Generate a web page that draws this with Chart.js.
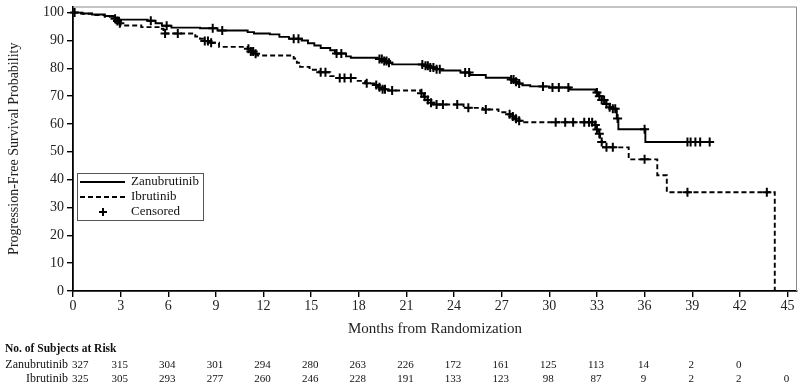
<!DOCTYPE html>
<html>
<head>
<meta charset="utf-8">
<script src="https://cdn.jsdelivr.net/npm/chart.js@4/dist/chart.umd.min.js"></script>
<style>
  html, body { margin: 0; padding: 0; background: #fff; }
  #wrap { width: 804px; height: 391px; position: relative; }
</style>
</head>
<body>
<div id="wrap"><canvas id="km"></canvas></div>
<script>
// tick labels
const monthTicks = [0, 3, 6, 9, 12, 15, 18, 21, 24, 27, 30, 33, 36, 39, 42, 45];
const pctTicks = [0, 10, 20, 30, 40, 50, 60, 70, 80, 90, 100];

// Zanubrutinib: event times (months) and survival (%) after each event
const zanuTimes = [0, 0.5, 1.2, 2.0, 2.6, 2.9, 4.7, 5.2, 5.6, 6.2, 8.0, 9.1, 11.0, 11.4, 12.4, 13.0, 13.6, 14.4, 14.8, 15.2, 15.6, 16.2, 16.5, 17.2, 17.5, 19.2, 19.5, 19.8, 20.1, 22.1, 22.5, 22.8, 23.2, 24.4, 25.0, 26.0, 27.6, 27.8, 28.0, 28.3, 28.8, 30.0, 31.3, 32.9, 33.1, 33.3, 33.5, 33.8, 34.0, 34.25, 34.35, 36.05];
const zanuSurv = [100, 99.7, 99.3, 98.8, 98.2, 97.5, 97.1, 96.2, 95.3, 94.6, 94.4, 93.6, 93.0, 92.5, 92.2, 91.3, 90.6, 90.0, 89.0, 88.2, 87.3, 86.5, 85.3, 84.3, 83.8, 83.3, 82.6, 82.0, 81.4, 80.9, 80.3, 79.7, 79.2, 78.5, 77.6, 76.6, 76.0, 75.2, 74.5, 73.9, 73.5, 73.1, 72.4, 71.3, 70.0, 68.6, 67.2, 66.0, 65.5, 62.0, 58.1, 53.5];
const zanuCensored = [0.1, 4.9, 5.9, 8.8, 9.4, 13.9, 14.2, 16.6, 16.9, 19.3, 19.45, 19.6, 19.75, 19.9, 22.0, 22.2, 22.35, 22.5, 22.7, 22.9, 23.1, 24.7, 24.95, 27.6, 27.75, 27.9, 28.1, 29.6, 30.2, 30.6, 31.2, 33.0, 33.15, 33.3, 33.45, 33.6, 33.8, 34.0, 34.15, 34.3, 36.0, 38.7, 38.9, 39.2, 39.5, 40.1];

// Ibrutinib
const ibruTimes = [0, 0.6, 1.3, 2.0, 2.6, 2.75, 2.9, 3.0, 4.3, 5.5, 5.7, 7.7, 8.0, 8.3, 8.7, 9.2, 11.0, 11.2, 11.4, 11.6, 13.9, 14.1, 14.3, 14.9, 15.5, 16.2, 16.6, 17.8, 18.4, 19.0, 19.2, 19.4, 19.7, 21.9, 22.1, 22.3, 22.5, 22.7, 24.6, 25.8, 26.8, 27.4, 27.6, 27.8, 28.0, 28.2, 32.9, 33.0, 33.1, 33.2, 33.3, 33.4, 35.0, 36.8, 37.4, 44.2];
const ibruSurv = [100, 99.6, 99.1, 98.5, 97.8, 97.0, 96.2, 95.4, 94.8, 94.2, 92.5, 91.4, 90.6, 89.8, 89.2, 87.7, 87.0, 86.0, 85.2, 84.6, 83.5, 82.0, 80.5, 79.5, 78.6, 77.2, 76.5, 75.5, 74.6, 74.0, 73.2, 72.5, 72.0, 71.0, 69.8, 68.6, 67.6, 67.0, 65.8, 65.2, 64.2, 63.5, 62.7, 61.9, 61.2, 60.6, 59.6, 58.0, 56.5, 55.0, 53.5, 51.6, 47.3, 41.6, 35.5, 0];
const ibruCensored = [2.65, 2.8, 2.95, 5.8, 6.6, 8.3, 8.5, 8.7, 11.05, 11.2, 11.35, 11.5, 15.6, 15.9, 16.8, 17.1, 17.5, 18.5, 19.1, 19.3, 19.5, 19.65, 20.1, 21.95, 22.15, 22.35, 22.55, 22.9, 23.3, 24.2, 24.9, 26.0, 27.5, 27.7, 27.9, 28.1, 30.4, 31.0, 31.5, 32.2, 32.5, 32.7, 32.9, 33.0, 33.15, 33.3, 33.6, 34.0, 36.0, 38.7, 43.7];

// numbers at risk
const riskZanu = [327, 315, 304, 301, 294, 280, 263, 226, 172, 161, 125, 113, 14, 2, 0];
const riskIbru = [325, 305, 293, 277, 260, 246, 228, 191, 133, 123, 98, 87, 9, 2, 2, 0];

const serif = "'Liberation Serif', 'DejaVu Serif', serif";

function survAt(times, surv, t) {
  let s = surv[0];
  for (let i = 0; i < times.length; i++) {
    if (times[i] <= t) s = surv[i];
  }
  return s;
}

function stepPoints(times, surv, endT) {
  const pts = times.map((t, i) => ({ x: t, y: surv[i] }));
  if (endT > times[times.length - 1]) pts.push({ x: endT, y: surv[surv.length - 1] });
  return pts;
}

function censorPoints(cens, times, surv) {
  return cens.map(t => ({ x: t, y: survAt(times, surv, t) }));
}

const zanuEnd = zanuCensored[zanuCensored.length - 1];

// frame, legend and risk table
const extras = {
  id: 'extras',
  beforeDatasetsDraw(chart) {
    const { ctx, chartArea: a } = chart;
    ctx.save();
    ctx.strokeStyle = '#8a8a8a';
    ctx.lineWidth = 1;
    ctx.beginPath();
    ctx.moveTo(a.left, a.top + 0.5);
    ctx.lineTo(a.right - 0.5, a.top + 0.5);
    ctx.lineTo(a.right - 0.5, a.bottom);
    ctx.stroke();
    ctx.restore();
  },
  afterDraw(chart) {
    const { ctx } = chart;
    const xs = chart.scales.x;
    ctx.save();

    // legend
    ctx.strokeStyle = '#555';
    ctx.lineWidth = 1;
    ctx.strokeRect(77.5, 173.5, 126, 47);
    ctx.strokeStyle = '#000';
    ctx.lineWidth = 1.9;
    ctx.beginPath();
    ctx.moveTo(80, 182); ctx.lineTo(125, 182);
    ctx.stroke();
    ctx.setLineDash([5, 3]);
    ctx.beginPath();
    ctx.moveTo(80, 197); ctx.lineTo(125, 197);
    ctx.stroke();
    ctx.setLineDash([]);
    ctx.lineWidth = 2;
    ctx.beginPath();
    ctx.moveTo(99, 212); ctx.lineTo(107, 212);
    ctx.moveTo(103, 208); ctx.lineTo(103, 216);
    ctx.stroke();
    ctx.fillStyle = '#111';
    ctx.font = '13px ' + serif;
    ctx.textAlign = 'left';
    ctx.textBaseline = 'middle';
    ctx.fillText('Zanubrutinib', 131, 182);
    ctx.fillText('Ibrutinib', 131, 197);
    ctx.fillText('Censored', 131, 212);

    // risk table
    ctx.font = 'bold 11.5px ' + serif;
    ctx.fillText('No. of Subjects at Risk', 5, 349);
    ctx.font = '12px ' + serif;
    ctx.textAlign = 'right';
    ctx.fillText('Zanubrutinib', 68, 365);
    ctx.fillText('Ibrutinib', 68, 379);
    ctx.font = '11px ' + serif;
    [[riskZanu, 365], [riskIbru, 379]].forEach(([row, y]) => {
      row.forEach((n, i) => {
        const px = xs.getPixelForValue(monthTicks[i]);
        ctx.textAlign = i === 0 ? 'left' : 'center';
        ctx.fillText(String(n), px - 1, y);
      });
    });
    ctx.restore();
  }
};

new Chart(document.getElementById('km'), {
  type: 'scatter',
  data: {
    datasets: [
      {
        label: 'Zanubrutinib',
        data: stepPoints(zanuTimes, zanuSurv, zanuEnd),
        showLine: true,
        stepped: true,
        borderColor: '#000',
        borderWidth: 1.9,
        pointRadius: 0
      },
      {
        label: 'Ibrutinib',
        data: stepPoints(ibruTimes, ibruSurv, 0),
        showLine: true,
        stepped: true,
        borderColor: '#000',
        borderWidth: 1.9,
        borderDash: [5, 3],
        pointRadius: 0
      },
      {
        label: 'Censored',
        data: censorPoints(zanuCensored, zanuTimes, zanuSurv),
        pointStyle: 'cross',
        pointRadius: 4.5,
        borderColor: '#000',
        borderWidth: 2,
        clip: false
      },
      {
        label: 'Censored Ibrutinib',
        data: censorPoints(ibruCensored, ibruTimes, ibruSurv),
        pointStyle: 'cross',
        pointRadius: 4.5,
        borderColor: '#000',
        borderWidth: 2,
        clip: false
      }
    ]
  },
  options: {
    responsive: true,
    maintainAspectRatio: false,
    animation: false,
    devicePixelRatio: 1,
    layout: { padding: { left: 4, top: 6, right: 7, bottom: 50 } },
    plugins: {
      legend: { display: false },
      tooltip: { enabled: false }
    },
    scales: {
      x: {
        type: 'linear',
        min: 0,
        max: 45.6,
        afterBuildTicks: s => { s.ticks = monthTicks.map(v => ({ value: v })); },
        afterFit: s => { s.height = 50; s.paddingLeft = 0; s.paddingRight = 0; },
        ticks: {
          color: '#222',
          font: { family: serif, size: 14 },
          padding: 1,
          maxRotation: 0
        },
        grid: { drawOnChartArea: false, drawTicks: true, tickLength: 6, color: '#000', lineWidth: 1.4 },
        border: { display: true, color: '#000', width: 1.8 },
        title: {
          display: true,
          text: 'Months from Randomization',
          color: '#222',
          font: { family: serif, size: 15 },
          padding: { top: 0, bottom: 3 }
        }
      },
      y: {
        type: 'linear',
        min: 0,
        max: 102.2,
        afterBuildTicks: s => { s.ticks = pctTicks.map(v => ({ value: v })); },
        afterFit: s => { s.width = 69; s.paddingTop = 0; s.paddingBottom = 0; },
        ticks: {
          color: '#222',
          font: { family: serif, size: 14 },
          padding: 3
        },
        grid: { drawOnChartArea: false, drawTicks: true, tickLength: 6, color: '#000', lineWidth: 1.4 },
        border: { display: true, color: '#000', width: 1.8 },
        title: {
          display: true,
          text: 'Progression-Free Survival Probability',
          color: '#222',
          font: { family: serif, size: 14 },
          padding: { top: 2, bottom: 0 }
        }
      }
    }
  },
  plugins: [extras]
});
</script>
</body>
</html>
